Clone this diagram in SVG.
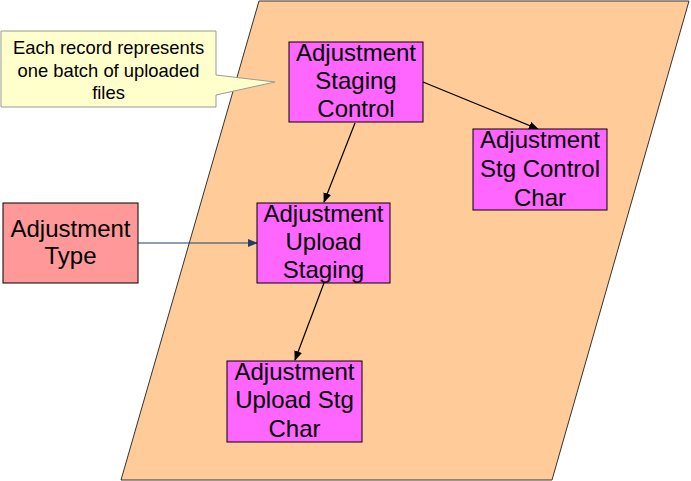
<svg xmlns="http://www.w3.org/2000/svg" width="691" height="481" viewBox="0 0 691 481">
<defs>
<style>
.t{font-family:"Liberation Sans",Arial,sans-serif;font-size:24px;fill:#000;text-anchor:middle}
.c{font-family:"Liberation Sans",Arial,sans-serif;font-size:18.4px;fill:#000;text-anchor:middle}
.ent{fill:#FF66FF;stroke:#000;stroke-width:1}
.ln{stroke:#000;stroke-width:1.2;fill:none}
</style>
<marker id="ah" markerWidth="10" markerHeight="8" refX="9" refY="4" orient="auto" markerUnits="userSpaceOnUse">
<path d="M0,0 L10,4 L0,8 Z" fill="#000"/>
</marker>
<marker id="ahb" markerWidth="10" markerHeight="8" refX="9" refY="4" orient="auto" markerUnits="userSpaceOnUse">
<path d="M0,0 L10,4 L0,8 Z" fill="#1F3F6F"/>
</marker>
</defs>
<rect width="691" height="481" fill="#fff"/>
<polygon id="boundary" points="259,1 689,1 552,480 121,480" fill="#FFCC99" stroke="#333" stroke-width="1"/>
<g id="callout">
<path d="M1,31 L216,31 L216,75 L275,82 L216,95 L216,107 L1,107 Z" fill="#FFFFCC" stroke="#999" stroke-width="1"/>
<text class="c" x="108.5" y="54">Each record represents</text>
<text class="c" x="108.5" y="77">one batch of uploaded</text>
<text class="c" x="108.5" y="99">files</text>
</g>
<g id="connectors">
<line class="ln" x1="423" y1="82" x2="538" y2="129" marker-end="url(#ah)"/>
<line class="ln" x1="355" y1="123" x2="324" y2="202" marker-end="url(#ah)"/>
<line class="ln" x1="324" y1="283" x2="295" y2="360" marker-end="url(#ah)"/>
<line x1="138" y1="243" x2="257" y2="243" stroke="#1F3F6F" stroke-width="1.2" marker-end="url(#ahb)"/>
</g>
<g id="n-adj-type">
<rect x="3" y="203" width="135" height="80" fill="#FF9999" stroke="#000" stroke-width="1"/>
<text class="t" x="70.5" y="237">Adjustment</text>
<text class="t" x="70.5" y="264">Type</text>
</g>
<g id="n-staging-control">
<rect class="ent" x="289" y="42" width="134" height="80"/>
<text class="t" x="356" y="61">Adjustment</text>
<text class="t" x="356" y="89">Staging</text>
<text class="t" x="356" y="117">Control</text>
</g>
<g id="n-stg-control-char">
<rect class="ent" x="473" y="129" width="134" height="81"/>
<text class="t" x="540" y="148">Adjustment</text>
<text class="t" x="540" y="177">Stg Control</text>
<text class="t" x="540" y="206">Char</text>
</g>
<g id="n-upload-staging">
<rect class="ent" x="257" y="203" width="133" height="80"/>
<text class="t" x="323.5" y="222">Adjustment</text>
<text class="t" x="323.5" y="250">Upload</text>
<text class="t" x="323.5" y="278">Staging</text>
</g>
<g id="n-upload-stg-char">
<rect class="ent" x="227" y="361" width="135" height="81"/>
<text class="t" x="294.5" y="380">Adjustment</text>
<text class="t" x="294.5" y="408">Upload Stg</text>
<text class="t" x="294.5" y="437">Char</text>
</g>
</svg>
